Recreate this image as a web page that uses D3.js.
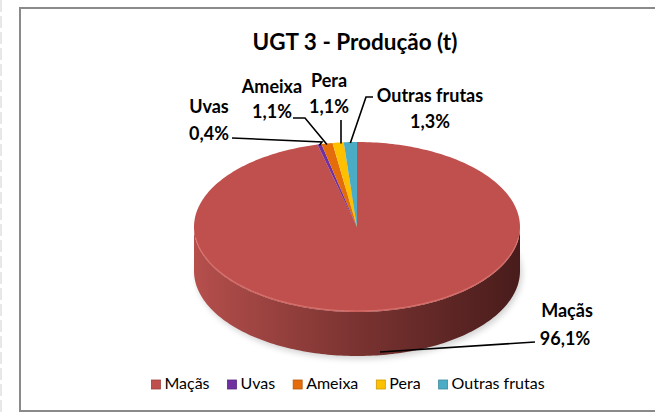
<!DOCTYPE html>
<html>
<head>
<meta charset="utf-8">
<style>
  body { margin: 0; background: #fff; font-family: Lato, "Open Sans", sans-serif; }
  svg { display: block; }
</style>
</head>
<body>
<svg id="chart" width="655" height="412"></svg>
<script src="https://cdn.jsdelivr.net/npm/d3@7"></script>
<script>
// data
var categories = ["Maçãs", "Uvas", "Ameixa", "Pera", "Outras frutas"];
var shares = [96.1, 0.4, 1.1, 1.1, 1.3];
var shareLabels = ["96,1%", "0,4%", "1,1%", "1,1%", "1,3%"];
var sliceColors = ["#C0504D", "#7030A0", "#E46C0A", "#FFC000", "#4BACC6"];
var title = "UGT 3 - Produção (t)";

var W = 655, H = 412;
var svg = d3.select("#chart");

// pie geometry (ellipse seen from above)
var cx = 357, cy = 227, rx = 163, ry = 85, depth = 44;

var color = d3.scaleOrdinal().domain(categories).range(sliceColors);

var data = categories.map(function (c, i) {
  return { name: c, value: shares[i], label: shareLabels[i] };
});
var pie = d3.pie().sort(null).value(function (d) { return d.value; })
  .startAngle(0).endAngle(2 * Math.PI);
var arcs = pie(data);

function pt(a, dy) {
  return [cx + rx * Math.sin(a), cy - ry * Math.cos(a) + (dy || 0)];
}
function samples(a0, a1) {
  var n = Math.max(2, Math.ceil((a1 - a0) / 0.02));
  return d3.range(n + 1).map(function (k) { return a0 + (a1 - a0) * k / n; });
}
var line = d3.line();

// frame
svg.append("line").attr("x1", 1).attr("x2", 1).attr("y1", 0).attr("y2", H)
  .attr("stroke", "#d0d0d0").attr("stroke-dasharray", "12,4");
svg.append("rect").attr("x", 20).attr("y", 8).attr("width", 700).attr("height", 403)
  .attr("fill", "#fff").attr("stroke", "#8a8a8a").attr("stroke-width", 2);

// title
svg.append("text").attr("x", 355).attr("y", 50).attr("text-anchor", "middle")
  .attr("font-size", 22.5).attr("font-weight", "bold").attr("fill", "#000").text(title);

var defs = svg.append("defs");
var grad = defs.append("linearGradient").attr("id", "side")
  .attr("gradientUnits", "userSpaceOnUse")
  .attr("x1", cx - rx).attr("x2", cx + rx).attr("y1", 0).attr("y2", 0);
grad.append("stop").attr("offset", 0).attr("stop-color", "#b54f4c");
grad.append("stop").attr("offset", 0.5).attr("stop-color", "#7a3331");
grad.append("stop").attr("offset", 1).attr("stop-color", "#481c1b");
defs.append("filter").attr("id", "blur").append("feGaussianBlur").attr("stdDeviation", 3);

// soft shadow
svg.append("ellipse").attr("cx", cx + 2).attr("cy", cy + depth + 3)
  .attr("rx", rx).attr("ry", ry).attr("fill", "#000").attr("opacity", 0.18)
  .attr("filter", "url(#blur)");

// sides (front half only: angles between PI/2 and 3PI/2)
arcs.forEach(function (d) {
  var a0 = Math.max(d.startAngle, Math.PI / 2), a1 = Math.min(d.endAngle, 3 * Math.PI / 2);
  if (a1 <= a0) return;
  var s = samples(a0, a1);
  var pts = s.map(function (a) { return pt(a); })
    .concat(s.slice().reverse().map(function (a) { return pt(a, depth); }));
  svg.append("path").attr("d", line(pts) + "Z").attr("fill", "url(#side)");
});

// top faces
arcs.forEach(function (d) {
  var pts = [[cx, cy]].concat(samples(d.startAngle, d.endAngle).map(function (a) { return pt(a); }));
  svg.append("path").attr("d", line(pts) + "Z").attr("fill", color(d.data.name));
});

// light rim highlight on the front edge
svg.append("path")
  .attr("d", line(samples(Math.PI / 2 + 0.15, 3 * Math.PI / 2 - 0.15).map(function (a) { return pt(a, -1); })))
  .attr("fill", "none").attr("stroke", "#e07d7a").attr("stroke-width", 1.2).attr("opacity", 0.7);

// data labels: name / value positions and leader start + elbow
var labelPos = {
  "Maçãs":         { nx: 567, ny: 317, vx: 565, vy: 345, lead: [[535, 342]] },
  "Uvas":          { nx: 209, ny: 113, vx: 209, vy: 140, lead: [[232, 138], [322, 142]] },
  "Ameixa":        { nx: 272, ny: 93,  vx: 272, vy: 118, lead: [[293, 118], [305, 118]] },
  "Pera":          { nx: 329, ny: 87,  vx: 329, vy: 113, lead: [[341, 120]] },
  "Outras frutas": { nx: 430, ny: 102, vx: 430, vy: 128, lead: [[373, 97], [366, 97]] }
};

arcs.forEach(function (d) {
  var p = labelPos[d.data.name];
  var mid = (d.startAngle + d.endAngle) / 2;
  var end = d.data.name === "Maçãs" ? [380, 352] : pt(mid, 1);
  if (d.data.name === "Pera") end = [341, end[1]];
  svg.append("path").attr("d", line(p.lead.concat([end])))
    .attr("fill", "none").attr("stroke", "#000").attr("stroke-width", 1.6);
  svg.append("text").attr("x", p.nx).attr("y", p.ny).attr("text-anchor", "middle")
    .attr("font-size", 18).attr("font-weight", "bold").text(d.data.name);
  svg.append("text").attr("x", p.vx).attr("y", p.vy).attr("text-anchor", "middle")
    .attr("font-size", 18).attr("font-weight", "bold").text(d.data.label);
});

// legend
var legend = svg.append("g");
var x = 0;
categories.forEach(function (c, i) {
  var g = legend.append("g").attr("transform", "translate(" + x + ",0)");
  g.append("rect").attr("x", 0).attr("y", -9).attr("width", 9).attr("height", 9)
    .attr("fill", color(c)).attr("stroke", d3.color(color(c)).darker(0.6)).attr("stroke-width", 0.8);
  var t = g.append("text").attr("x", 13).attr("y", 0).attr("font-size", 16).attr("fill", "#000").text(c);
  x += 13 + t.node().getComputedTextLength() + 18;
});
var total = x - 18;
legend.attr("transform", "translate(" + (348 - total / 2) + ",389)");
</script>
</body>
</html>
